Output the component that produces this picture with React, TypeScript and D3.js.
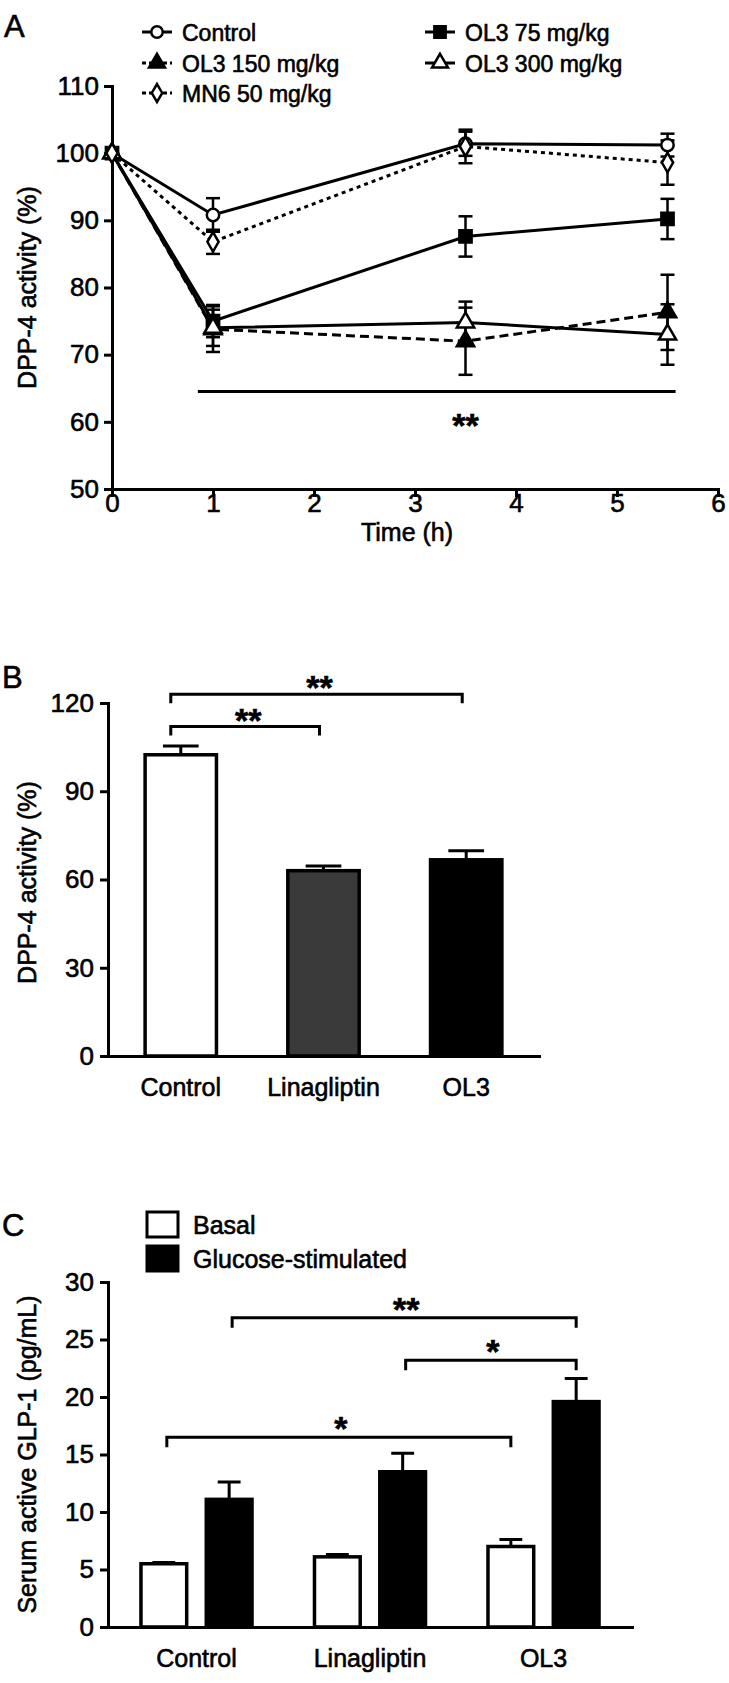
import React from 'react';
import * as d3 from 'd3';

// ---- Panel A: DPP-4 activity over time ----
const times = [0, 1, 3.5, 5.5];
const controlMean = [100, 90.8, 101.4, 101.2];
const controlSem = [0, 2.5, 1.8, 1.7];
const ol375Mean = [100, 75.0, 87.6, 90.2];
const ol375Sem = [0, 2.4, 3.0, 3.0];
const ol3150Mean = [100, 73.8, 72.0, 76.3];
const ol3150Sem = [0, 3.4, 5.0, 5.6];
const ol3300Mean = [100, 74.0, 74.8, 73.0];
const ol3300Sem = [0, 2.7, 3.1, 4.5];
const mn6Mean = [100, 86.8, 101.0, 98.6];
const mn6Sem = [0, 1.8, 2.5, 3.3];
const timeTicks = [0, 1, 2, 3, 4, 5, 6];
const activityTicksA = [50, 60, 70, 80, 90, 100, 110];
const sigLineA = { from: 0.85, to: 5.58, level: 64.5, labelAt: 3.5, label: '**' };

// ---- Panel B: DPP-4 activity by treatment ----
const groupsB = ['Control', 'Linagliptin', 'OL3'];
const activityB = [102.4, 63.0, 66.7];
const activitySemB = [3.0, 1.6, 3.1];
const activityTicksB = [0, 30, 60, 90, 120];
const bracketsB = [
  { from: 'Control', to: 'Linagliptin', level: 112, label: '**' },
  { from: 'Control', to: 'OL3', level: 123, label: '**' },
];

// ---- Panel C: serum active GLP-1 ----
const groupsC = ['Control', 'Linagliptin', 'OL3'];
const conditionsC = ['Basal', 'Glucose-stimulated'];
const basalC = [5.5, 6.1, 7.0];
const basalSemC = [0.1, 0.2, 0.6];
const glucoseC = [11.1, 13.5, 19.6];
const glucoseSemC = [1.5, 1.6, 2.0];
const glpTicksC = [0, 5, 10, 15, 20, 25, 30];
const bracketsC = [
  { from: ['Control', 'Basal'], to: ['OL3', 'Basal'], level: 16.5, label: '*' },
  { from: ['Control', 'Glucose-stimulated'], to: ['OL3', 'Glucose-stimulated'], level: 26.9, label: '**' },
  { from: ['Linagliptin', 'Glucose-stimulated'], to: ['OL3', 'Glucose-stimulated'], level: 23.2, label: '*' },
];

const FONT = '"Liberation Sans", Arial, Helvetica, sans-serif';
const W = 729, H = 1683;

const styleAxis = (g, fontSize) => {
  g.select('.domain').attr('stroke-width', 3).attr('stroke-linecap', 'square');
  g.selectAll('.tick line').attr('stroke-width', 3);
  g.selectAll('.tick text').attr('font-size', fontSize).attr('fill', '#000');
  g.attr('font-family', FONT);
};

const star = (g, x, y, label) => {
  // y is the visual centre of the asterisks
  g.append('text')
    .attr('x', x)
    .attr('y', y + 20)
    .attr('text-anchor', 'middle')
    .attr('font-size', 34)
    .attr('font-weight', 'bold')
    .text(label);
};

const bracket = (g, x1, x2, y, drop) => {
  g.append('path')
    .attr('d', `M${x1},${y + drop}V${y}H${x2}V${y + drop}`)
    .attr('fill', 'none')
    .attr('stroke', '#000')
    .attr('stroke-width', 3);
};

const App = () => {
  const svgRef = React.useRef(null);

  React.useEffect(() => {
    const svg = d3.select(svgRef.current);
    svg.selectAll('*').remove();
    // scanned figure text is a little heavier than plain Arial
    svg.append('style').text('text{stroke:#000;stroke-width:0.6px;}');

    // ================= A =================
    const xA = d3.scaleLinear().domain([0, 6]).range([112, 718]);
    const yA = d3.scaleLinear().domain([50, 110]).range([489, 86]);
    const gA = svg.append('g');

    gA.append('text').attr('x', 4).attr('y', 37).attr('font-size', 31).text('A');

    gA.append('g')
      .attr('transform', `translate(${xA(0)},0)`)
      .call(d3.axisLeft(yA).tickValues(activityTicksA).tickSize(8).tickSizeOuter(0).tickPadding(5))
      .call((g) => styleAxis(g, 26));
    gA.append('g')
      .attr('transform', `translate(0,${yA(50)})`)
      .call(d3.axisBottom(xA).tickValues(timeTicks).tickFormat(d3.format('d')).tickSize(8).tickSizeOuter(0).tickPadding(-3))
      .call((g) => styleAxis(g, 26));

    gA.append('text')
      .attr('x', (xA(0) + xA(6)) / 2 - 8)
      .attr('y', 541)
      .attr('text-anchor', 'middle')
      .attr('font-size', 25)
      .text('Time (h)');
    gA.append('text')
      .attr('transform', `translate(36,${(yA(50) + yA(110)) / 2}) rotate(-90)`)
      .attr('text-anchor', 'middle')
      .attr('font-size', 25)
      .text('DPP-4 activity (%)');

    const seriesA = [
      { name: 'Control', mean: controlMean, sem: controlSem, dash: null, symbol: d3.symbolCircle, size: 120, fill: '#fff' },
      { name: 'OL3 75 mg/kg', mean: ol375Mean, sem: ol375Sem, dash: null, symbol: d3.symbolSquare, size: 150, fill: '#000' },
      { name: 'OL3 150 mg/kg', mean: ol3150Mean, sem: ol3150Sem, dash: '9,5', symbol: d3.symbolTriangle, size: 130, fill: '#000' },
      { name: 'OL3 300 mg/kg', mean: ol3300Mean, sem: ol3300Sem, dash: null, symbol: d3.symbolTriangle, size: 130, fill: '#fff' },
      { name: 'MN6 50 mg/kg', mean: mn6Mean, sem: mn6Sem, dash: '4,4', symbol: d3.symbolDiamond, size: 110, fill: '#fff' },
    ];

    const line = d3.line<number>().x((d, i) => xA(times[i])).y((d) => yA(d));

    seriesA.forEach((s) => {
      gA.append('path')
        .attr('d', line(s.mean))
        .attr('fill', 'none')
        .attr('stroke', '#000')
        .attr('stroke-width', 3)
        .attr('stroke-dasharray', s.dash);
    });

    seriesA.forEach((s) => {
      const eb = gA.append('g').attr('stroke', '#000').attr('stroke-width', 2.5);
      s.mean.forEach((m, i) => {
        if (!s.sem[i]) return;
        const cx = xA(times[i]);
        const top = yA(m + s.sem[i]);
        const bot = yA(m - s.sem[i]);
        eb.append('line').attr('x1', cx).attr('x2', cx).attr('y1', top).attr('y2', bot);
        eb.append('line').attr('x1', cx - 7).attr('x2', cx + 7).attr('y1', top).attr('y2', top);
        eb.append('line').attr('x1', cx - 7).attr('x2', cx + 7).attr('y1', bot).attr('y2', bot);
      });
    });

    seriesA.forEach((s) => {
      gA.append('g')
        .selectAll('path')
        .data(s.mean)
        .enter()
        .append('path')
        .attr('transform', (d, i) => `translate(${xA(times[i])},${yA(d)})`)
        .attr('d', d3.symbol().type(s.symbol).size(s.size)())
        .attr('fill', s.fill)
        .attr('stroke', '#000')
        .attr('stroke-width', 2.5);
    });

    // significance line
    gA.append('line')
      .attr('x1', xA(sigLineA.from)).attr('x2', xA(sigLineA.to))
      .attr('y1', yA(sigLineA.level)).attr('y2', yA(sigLineA.level))
      .attr('stroke', '#000').attr('stroke-width', 3);
    star(gA, xA(sigLineA.labelAt), yA(sigLineA.level) + 25, sigLineA.label);

    // legend
    const legendPos = [[157, 32], [440, 32], [157, 63], [440, 63], [157, 93]];
    seriesA.forEach((s, j) => {
      const [lx, ly] = legendPos[j];
      const lg = gA.append('g').attr('transform', `translate(${lx},${ly})`);
      lg.append('line').attr('x1', -15).attr('x2', 15).attr('y1', 0).attr('y2', 0)
        .attr('stroke', '#000').attr('stroke-width', 3).attr('stroke-dasharray', s.dash ? '4,3' : null);
      lg.append('path')
        .attr('d', d3.symbol().type(s.symbol).size(s.size * 0.85)())
        .attr('fill', s.fill).attr('stroke', '#000').attr('stroke-width', 2.5);
      lg.append('text').attr('x', 25).attr('y', 8.5).attr('font-size', 23).text(s.name);
    });

    // ================= B =================
    const xB = d3.scaleBand().domain(groupsB).range([108, 539]).paddingInner(0.5).paddingOuter(0.26);
    const yB = d3.scaleLinear().domain([0, 120]).range([1056, 703]);
    const gB = svg.append('g');
    const fillB = ['#fff', '#3a3a3a', '#000'];

    gB.append('text').attr('x', 2).attr('y', 688).attr('font-size', 31).text('B');

    gB.selectAll('.err')
      .data(groupsB)
      .enter()
      .append('path')
      .attr('d', (d, i) => {
        const cx = xB(d) + xB.bandwidth() / 2;
        const cw = xB.bandwidth() / 4;
        const top = yB(activityB[i] + activitySemB[i]);
        return `M${cx},${yB(activityB[i])}V${top}M${cx - cw},${top}H${cx + cw}`;
      })
      .attr('stroke', '#000').attr('stroke-width', 3).attr('fill', 'none');

    gB.selectAll('.bar')
      .data(groupsB)
      .enter()
      .append('rect')
      .attr('x', (d) => xB(d))
      .attr('y', (d, i) => yB(activityB[i]))
      .attr('width', xB.bandwidth())
      .attr('height', (d, i) => yB(0) - yB(activityB[i]))
      .attr('fill', (d, i) => fillB[i])
      .attr('stroke', '#000')
      .attr('stroke-width', 3.5);

    gB.append('g')
      .attr('transform', `translate(${xB.range()[0]},0)`)
      .call(d3.axisLeft(yB).tickValues(activityTicksB).tickSize(8).tickSizeOuter(0).tickPadding(6))
      .call((g) => styleAxis(g, 26));
    gB.append('g')
      .attr('transform', `translate(0,${yB(0)})`)
      .call(d3.axisBottom(xB).tickSize(0).tickPadding(22))
      .call((g) => styleAxis(g, 25));

    gB.append('text')
      .attr('transform', `translate(36,${(yB(0) + yB(120)) / 2 + 3}) rotate(-90)`)
      .attr('text-anchor', 'middle')
      .attr('font-size', 25)
      .text('DPP-4 activity (%)');

    bracketsB.forEach((b) => {
      const x1 = xB(b.from) + xB.bandwidth() / 2 - 10;
      const x2 = xB(b.to) + xB.bandwidth() / 2 - 4;
      bracket(gB, x1, x2, yB(b.level), 9);
      star(gB, (x1 + x2) / 2 + 3, yB(b.level) - 15, b.label);
    });

    // ================= C =================
    const x0C = d3.scaleBand().domain(groupsC).range([108, 632]).paddingInner(0.36).paddingOuter(0.19);
    const x1C = d3.scaleBand().domain(conditionsC).range([0, x0C.bandwidth()]).paddingInner(0.3);
    const yC = d3.scaleLinear().domain([0, 30]).range([1627, 1282]);
    const gC = svg.append('g');
    const fillC = { Basal: '#fff', 'Glucose-stimulated': '#000' };
    const valuesC = { Basal: basalC, 'Glucose-stimulated': glucoseC };
    const semC = { Basal: basalSemC, 'Glucose-stimulated': glucoseSemC };
    const cxC = (grp, cond) => x0C(grp) + x1C(cond) + x1C.bandwidth() / 2;

    gC.append('text').attr('x', 2).attr('y', 1236).attr('font-size', 31).text('C');

    conditionsC.forEach((cond) => {
      gC.append('g')
        .selectAll('path')
        .data(groupsC)
        .enter()
        .append('path')
        .attr('d', (d, i) => {
          const cx = cxC(d, cond);
          const cw = x1C.bandwidth() / 4;
          const top = yC(valuesC[cond][i] + semC[cond][i]);
          return `M${cx},${yC(valuesC[cond][i])}V${top}M${cx - cw},${top}H${cx + cw}`;
        })
        .attr('stroke', '#000').attr('stroke-width', 3).attr('fill', 'none');
      gC.append('g')
        .selectAll('rect')
        .data(groupsC)
        .enter()
        .append('rect')
        .attr('x', (d) => x0C(d) + x1C(cond))
        .attr('y', (d, i) => yC(valuesC[cond][i]))
        .attr('width', x1C.bandwidth())
        .attr('height', (d, i) => yC(0) - yC(valuesC[cond][i]))
        .attr('fill', fillC[cond])
        .attr('stroke', '#000')
        .attr('stroke-width', 3.5);
    });

    gC.append('g')
      .attr('transform', `translate(${x0C.range()[0]},0)`)
      .call(d3.axisLeft(yC).tickValues(glpTicksC).tickSize(8).tickSizeOuter(0).tickPadding(6))
      .call((g) => styleAxis(g, 26));
    gC.append('g')
      .attr('transform', `translate(0,${yC(0)})`)
      .call(d3.axisBottom(x0C).tickSize(0).tickPadding(22))
      .call((g) => styleAxis(g, 25));

    gC.append('text')
      .attr('transform', `translate(36,${(yC(0) + yC(30)) / 2}) rotate(-90)`)
      .attr('text-anchor', 'middle')
      .attr('font-size', 25)
      .text('Serum active GLP-1 (pg/mL)');

    bracketsC.forEach((b) => {
      const x1 = cxC(b.from[0], b.from[1]) + 3;
      const x2 = cxC(b.to[0], b.to[1]);
      bracket(gC, x1, x2, yC(b.level), 10);
      star(gC, (x1 + x2) / 2 + 2, yC(b.level) - 17, b.label);
    });

    // legend C
    conditionsC.forEach((cond, i) => {
      const ly = 1212 + i * 34;
      gC.append('rect').attr('x', 147).attr('y', ly).attr('width', 31).attr('height', 25)
        .attr('fill', fillC[cond]).attr('stroke', '#000').attr('stroke-width', 3);
      gC.append('text').attr('x', 193).attr('y', ly + 22).attr('font-size', 25).text(cond);
    });
  }, []);

  return (
    <svg
      ref={svgRef}
      width={W}
      height={H}
      fontFamily={FONT}
      style={{ position: 'absolute', left: 0, top: 0, background: '#fff' }}
    />
  );
};

export default App;
